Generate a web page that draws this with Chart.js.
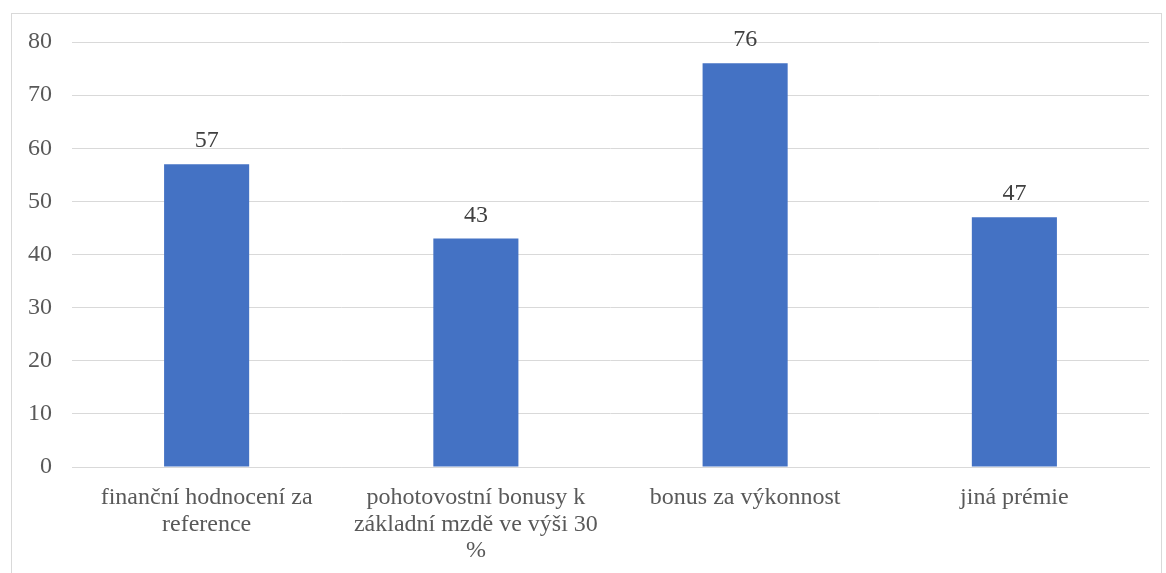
<!DOCTYPE html>
<html>
<head>
<meta charset="utf-8">
<script src="https://cdn.jsdelivr.net/npm/chart.js@4.4.1/dist/chart.umd.min.js"></script>
<style>
  html, body { margin: 0; padding: 0; background: #fff; overflow: hidden; }
  #frame { position: absolute; left: 11px; top: 13px; width: 1151px; height: 620px; border: 1px solid #d9d9d9; box-sizing: border-box; }
  #wrap { position: absolute; left: 0; top: 0; width: 1166px; height: 573px; }
</style>
</head>
<body>
<div id="frame"></div>
<div id="wrap"><canvas id="barChart"></canvas></div>
<script>
var categories = [
    ['finanční hodnocení za', 'reference'],
    ['pohotovostní bonusy k', 'základní mzdě ve výši 30', '%'],
    'bonus za výkonnost',
    'jiná prémie'
];
var values = [57, 43, 76, 47];
var yTicks = [0, 10, 20, 30, 40, 50, 60, 70, 80];

var serif = '"Liberation Serif", "Times New Roman", serif';

// numbers above the bars
var valueLabels = {
    id: 'valueLabels',
    afterDatasetsDraw: function (chart) {
        var c = chart.ctx;
        var meta = chart.getDatasetMeta(0);
        c.save();
        c.font = '24px ' + serif;
        c.fillStyle = '#404040';
        c.textAlign = 'center';
        c.textBaseline = 'alphabetic';
        meta.data.forEach(function (bar, i) {
            c.fillText(values[i], bar.x, bar.y - 17);
        });
        c.restore();
    }
};

var ctx = document.getElementById('barChart');
var barChart = new Chart(ctx, {
    type: 'bar',
    data: {
        labels: categories,
        datasets: [{
            data: values,
            backgroundColor: '#4472c4',
            categoryPercentage: 1,
            barPercentage: 0.316
        }]
    },
    options: {
        responsive: true,
        maintainAspectRatio: false,
        animation: false,
        layout: { padding: { left: 0, top: 42, right: 17, bottom: 0 } },
        plugins: { legend: { display: false }, tooltip: { enabled: false } },
        scales: {
            y: {
                min: 0,
                max: 80,
                afterBuildTicks: function (s) { s.ticks = yTicks.map(function (v) { return { value: v }; }); },
                afterFit: function (s) { s.width = 72; },
                border: { display: false },
                grid: { color: '#d9d9d9', drawTicks: false },
                ticks: {
                    padding: 20,
                    color: '#595959',
                    font: { family: serif, size: 24 }
                }
            },
            x: {
                afterFit: function (s) { s.height = 106; },
                border: { color: '#d9d9d9' },
                grid: { display: false, drawTicks: false },
                ticks: {
                    padding: 18,
                    maxRotation: 0,
                    autoSkip: false,
                    color: '#595959',
                    font: { family: serif, size: 24, lineHeight: 1.09 }
                }
            }
        }
    },
    plugins: [valueLabels]
});
</script>
</body>
</html>
